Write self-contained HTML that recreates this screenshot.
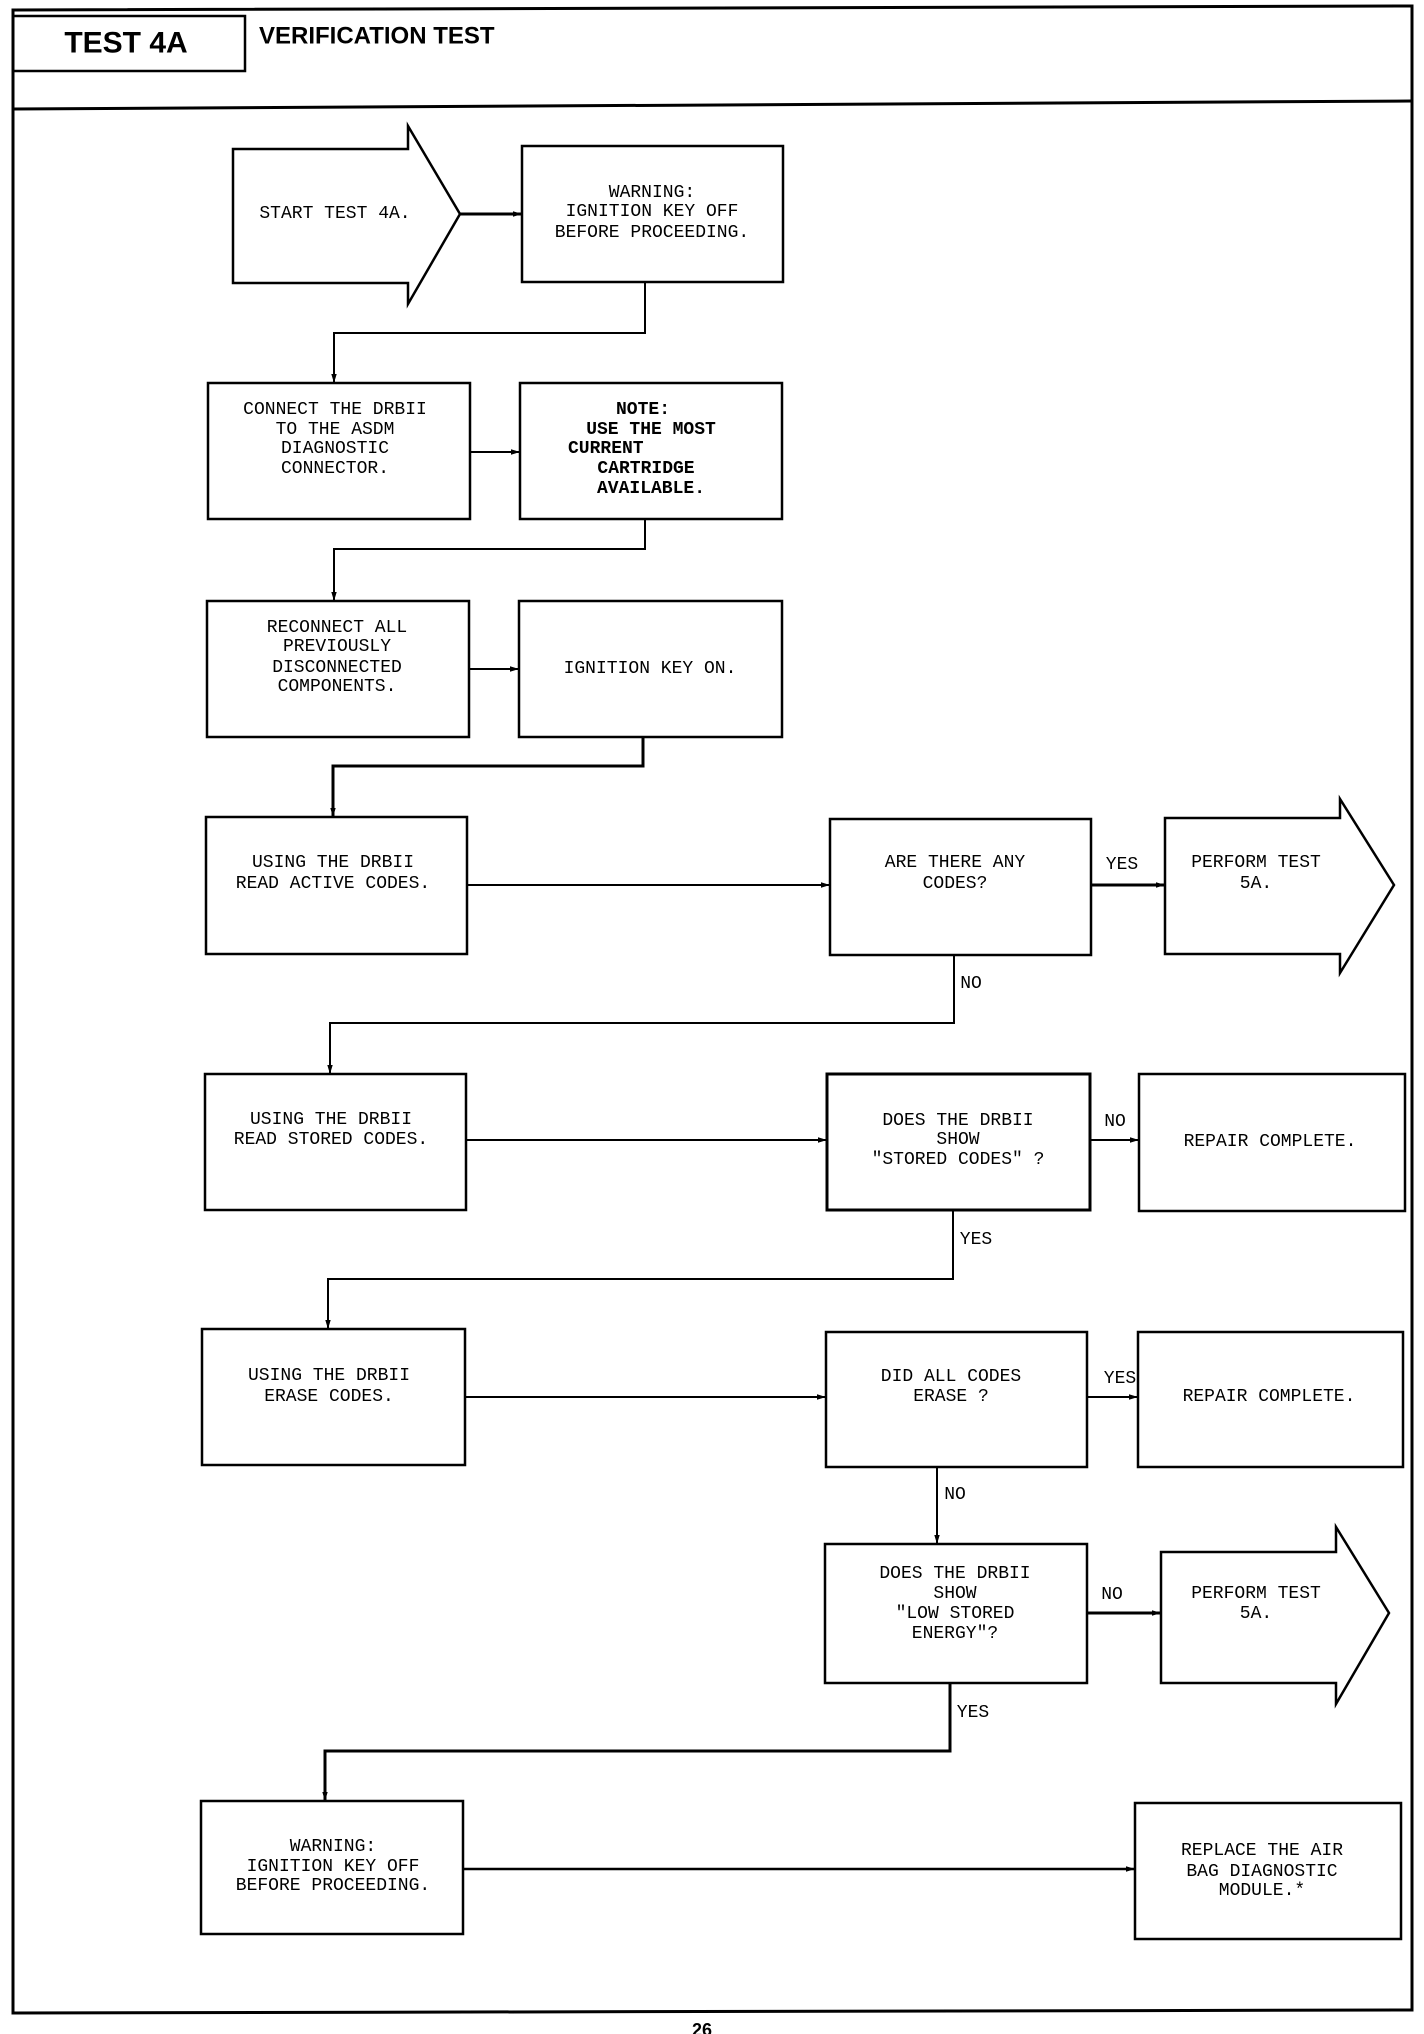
<!DOCTYPE html>
<html><head><meta charset="utf-8"><style>
html,body{margin:0;padding:0;background:#fff;}
svg{display:block;}
.t{font-family:"Liberation Mono","DejaVu Sans Mono",monospace;font-size:18px;fill:#000;text-anchor:middle;dominant-baseline:central;}
.b{font-weight:bold;}
.h{font-family:"Liberation Sans",Arial,sans-serif;font-weight:bold;fill:#000;dominant-baseline:central;}
</style></head><body>
<svg width="1424" height="2034" viewBox="0 0 1424 2034" xmlns="http://www.w3.org/2000/svg">
<defs><marker id="a" viewBox="0 0 10 10" refX="10" refY="5" markerUnits="userSpaceOnUse" markerWidth="11" markerHeight="9" orient="auto"><path d="M0,2 L10,5 L0,8 z" fill="#000"/></marker></defs>
<g fill="none" stroke="#000" stroke-width="2.5">
<path d="M13,10 L1412,6 L1412,2010 L13,2013 Z" stroke-width="3"/>
<path d="M13,109 L1412,101" stroke-width="3"/>
<rect x="13" y="16" width="232" height="55" stroke-width="2.5"/>
<path d="M233,149 L408,149 L408,126 L460,214 L408,304 L408,283 L233,283 Z"/>
<rect x="522" y="146" width="261" height="136"/>
<path d="M460,214 L522,214" marker-end="url(#a)" stroke-width="3"/>
<path d="M645,282 L645,333 L334,333 L334,383" stroke-width="2" marker-end="url(#a)"/>
<rect x="208" y="383" width="262" height="136"/>
<rect x="520" y="383" width="262" height="136"/>
<path d="M470,452 L520,452" stroke-width="2" marker-end="url(#a)"/>
<path d="M645,519 L645,549 L334,549 L334,601" stroke-width="2" marker-end="url(#a)"/>
<rect x="207" y="601" width="262" height="136"/>
<rect x="519" y="601" width="263" height="136"/>
<path d="M469,669 L519,669" stroke-width="2" marker-end="url(#a)"/>
<path d="M643,737 L643,766 L333,766 L333,817" stroke-width="3" marker-end="url(#a)"/>
<rect x="206" y="817" width="261" height="137"/>
<rect x="830" y="819" width="261" height="136"/>
<path d="M467,885 L830,885" stroke-width="2" marker-end="url(#a)"/>
<path d="M1091,885 L1165,885" stroke-width="3" marker-end="url(#a)"/>
<path d="M1165,818 L1340,818 L1340,799 L1394,885 L1340,973 L1340,954 L1165,954 Z"/>
<path d="M954,955 L954,1023 L330,1023 L330,1074" stroke-width="2" marker-end="url(#a)"/>
<rect x="205" y="1074" width="261" height="136"/>
<rect x="827" y="1074" width="263" height="136" stroke-width="3"/>
<path d="M466,1140 L827,1140" stroke-width="2" marker-end="url(#a)"/>
<path d="M1090,1140 L1139,1140" stroke-width="2" marker-end="url(#a)"/>
<rect x="1139" y="1074" width="266" height="137"/>
<path d="M953,1210 L953,1279 L328,1279 L328,1329" stroke-width="2" marker-end="url(#a)"/>
<rect x="202" y="1329" width="263" height="136"/>
<rect x="826" y="1332" width="261" height="135"/>
<path d="M465,1397 L826,1397" stroke-width="2" marker-end="url(#a)"/>
<path d="M1087,1397 L1138,1397" stroke-width="2" marker-end="url(#a)"/>
<rect x="1138" y="1332" width="265" height="135"/>
<path d="M937,1467 L937,1544" stroke-width="2" marker-end="url(#a)"/>
<rect x="825" y="1544" width="262" height="139"/>
<path d="M1087,1613 L1161,1613" stroke-width="3" marker-end="url(#a)"/>
<path d="M1161,1552 L1336,1552 L1336,1527 L1389,1613 L1336,1704 L1336,1683 L1161,1683 Z"/>
<path d="M950,1683 L950,1751 L325,1751 L325,1801" stroke-width="3" marker-end="url(#a)"/>
<rect x="201" y="1801" width="262" height="133"/>
<rect x="1135" y="1803" width="266" height="136"/>
<path d="M463,1869 L1135,1869" stroke-width="2.5" marker-end="url(#a)"/>
</g>
<text class="h" x="126" y="43" text-anchor="middle" font-size="30">TEST 4A</text>
<text class="h" x="259" y="36" font-size="24">VERIFICATION TEST</text>

<text class="t" x="335" y="214">START TEST 4A.</text>
<text class="t" x="652" y="193">WARNING:</text>
<text class="t" x="652" y="212">IGNITION KEY OFF</text>
<text class="t" x="652" y="233">BEFORE PROCEEDING.</text>

<text class="t" x="335" y="410">CONNECT THE DRBII</text>
<text class="t" x="335" y="430">TO THE ASDM</text>
<text class="t" x="335" y="449">DIAGNOSTIC</text>
<text class="t" x="335" y="469">CONNECTOR.</text>
<text class="t b" x="643" y="410">NOTE:</text>
<text class="t b" x="651" y="430">USE THE MOST</text>
<text class="t b" x="568" y="449" style="text-anchor:start">CURRENT</text>
<text class="t b" x="646" y="469">CARTRIDGE</text>
<text class="t b" x="651" y="489">AVAILABLE.</text>

<text class="t" x="337" y="628">RECONNECT ALL</text>
<text class="t" x="337" y="647">PREVIOUSLY</text>
<text class="t" x="337" y="668">DISCONNECTED</text>
<text class="t" x="337" y="687">COMPONENTS.</text>
<text class="t" x="650" y="669">IGNITION KEY ON.</text>

<text class="t" x="333" y="863">USING THE DRBII</text>
<text class="t" x="333" y="884">READ ACTIVE CODES.</text>
<text class="t" x="955" y="863">ARE THERE ANY</text>
<text class="t" x="955" y="884">CODES?</text>
<text class="t" x="1122" y="865">YES</text>
<text class="t" x="1256" y="863">PERFORM TEST</text>
<text class="t" x="1256" y="884">5A.</text>
<text class="t" x="971" y="984">NO</text>

<text class="t" x="331" y="1120">USING THE DRBII</text>
<text class="t" x="331" y="1140">READ STORED CODES.</text>
<text class="t" x="958" y="1121">DOES THE DRBII</text>
<text class="t" x="958" y="1140">SHOW</text>
<text class="t" x="958" y="1160">"STORED CODES" ?</text>
<text class="t" x="1115" y="1122">NO</text>
<text class="t" x="1270" y="1142">REPAIR COMPLETE.</text>
<text class="t" x="976" y="1240">YES</text>

<text class="t" x="329" y="1376">USING THE DRBII</text>
<text class="t" x="329" y="1397">ERASE CODES.</text>
<text class="t" x="951" y="1377">DID ALL CODES</text>
<text class="t" x="951" y="1397">ERASE ?</text>
<text class="t" x="1120" y="1379">YES</text>
<text class="t" x="1269" y="1397">REPAIR COMPLETE.</text>
<text class="t" x="955" y="1495">NO</text>

<text class="t" x="955" y="1574">DOES THE DRBII</text>
<text class="t" x="955" y="1594">SHOW</text>
<text class="t" x="955" y="1614">"LOW STORED</text>
<text class="t" x="955" y="1634">ENERGY"?</text>
<text class="t" x="1112" y="1595">NO</text>
<text class="t" x="1256" y="1594">PERFORM TEST</text>
<text class="t" x="1256" y="1614">5A.</text>
<text class="t" x="973" y="1713">YES</text>

<text class="t" x="333" y="1847">WARNING:</text>
<text class="t" x="333" y="1867">IGNITION KEY OFF</text>
<text class="t" x="333" y="1886">BEFORE PROCEEDING.</text>
<text class="t" x="1262" y="1851">REPLACE THE AIR</text>
<text class="t" x="1262" y="1872">BAG DIAGNOSTIC</text>
<text class="t" x="1262" y="1891">MODULE.*</text>
<text class="h" x="702" y="2030" text-anchor="middle" font-size="18">26</text>
</svg>
</body></html>
